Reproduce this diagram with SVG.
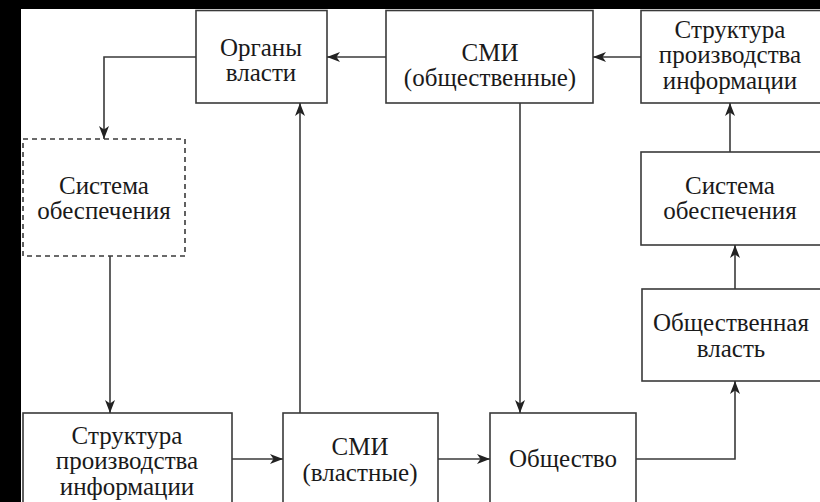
<svg xmlns="http://www.w3.org/2000/svg" width="820" height="502" viewBox="0 0 820 502">
<defs>
<style>
.box{fill:#fff;stroke:#3a3a3a;stroke-width:1.6}
.dash{fill:#fff;stroke:#3a3a3a;stroke-width:1.6;stroke-dasharray:5,4}
.t{font-family:"Liberation Serif","Times New Roman",serif;font-size:25px;fill:#1a1a1a;text-anchor:middle}
.c{fill:none;stroke:#3a3a3a;stroke-width:1.6}
</style>
<marker id="ah" viewBox="-13 -6 14 12" refX="0" refY="0" markerWidth="14" markerHeight="12" markerUnits="userSpaceOnUse" orient="auto">
<path d="M0,0 L-13,-5 L-9.5,0 L-13,5 z" fill="#222"/>
</marker>
</defs>
<rect x="0" y="0" width="820" height="502" fill="#000"/>
<rect x="21" y="9" width="799" height="493" fill="#fff"/>
<g id="organy">
<rect class="box" x="196" y="10.5" width="131" height="92.5"/>
<text class="t" x="261" y="56">Органы</text>
<text class="t" x="261" y="81">власти</text>
</g>
<g id="smi-obsh">
<rect class="box" x="386" y="10.5" width="207" height="92.5"/>
<text class="t" x="490" y="61">СМИ</text>
<text class="t" x="490" y="86">(общественные)</text>
</g>
<g id="struktura-top">
<rect class="box" x="641" y="10.5" width="190" height="92.5"/>
<text class="t" x="730" y="38">Структура</text>
<text class="t" x="730" y="63">производства</text>
<text class="t" x="730" y="89">информации</text>
</g>
<g id="sistema-dashed">
<rect class="dash" x="23" y="139" width="162" height="117"/>
<text class="t" x="104" y="194">Система</text>
<text class="t" x="104" y="219">обеспечения</text>
</g>
<g id="sistema-right">
<rect class="box" x="641" y="152" width="190" height="93"/>
<text class="t" x="730" y="194">Система</text>
<text class="t" x="730" y="219">обеспечения</text>
</g>
<g id="obsh-vlast">
<rect class="box" x="642" y="289" width="190" height="92"/>
<text class="t" x="731" y="331">Общественная</text>
<text class="t" x="731" y="357">власть</text>
</g>
<g id="struktura-bottom">
<rect class="box" x="23" y="413" width="209" height="100"/>
<text class="t" x="127" y="444">Структура</text>
<text class="t" x="127" y="469">производства</text>
<text class="t" x="127" y="495">информации</text>
</g>
<g id="smi-vlast">
<rect class="box" x="283" y="413" width="155" height="100"/>
<text class="t" x="360" y="455">СМИ</text>
<text class="t" x="360" y="481">(властные)</text>
</g>
<g id="obshestvo">
<rect class="box" x="490" y="413" width="146" height="100"/>
<text class="t" x="563" y="467">Общество</text>
</g>
<g id="connectors">
<path class="c" d="M196,57 H104 V139" marker-end="url(#ah)"/>
<path class="c" d="M386,57 H327" marker-end="url(#ah)"/>
<path class="c" d="M641,57 H593" marker-end="url(#ah)"/>
<path class="c" d="M110,256 V413" marker-end="url(#ah)"/>
<path class="c" d="M232,459 H283" marker-end="url(#ah)"/>
<path class="c" d="M300,413 V103" marker-end="url(#ah)"/>
<path class="c" d="M438,459 H490" marker-end="url(#ah)"/>
<path class="c" d="M520,103 V413" marker-end="url(#ah)"/>
<path class="c" d="M636,459 H735 V381" marker-end="url(#ah)"/>
<path class="c" d="M735,289 V245" marker-end="url(#ah)"/>
<path class="c" d="M730,152 V103" marker-end="url(#ah)"/>
</g>
</svg>
